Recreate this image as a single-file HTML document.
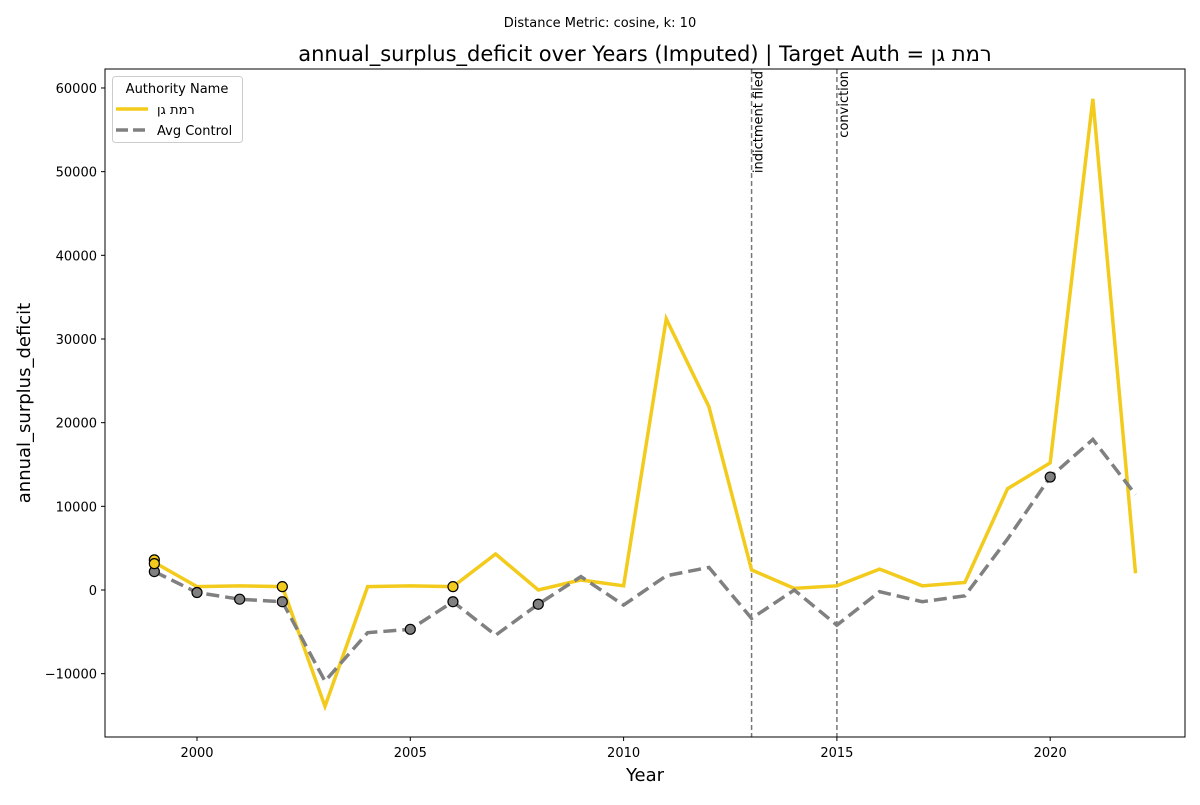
<!DOCTYPE html>
<html><head><meta charset="utf-8"><style>body{margin:0;background:#fff}svg text{font-family:"DejaVu Sans","Liberation Sans",sans-serif}</style></head>
<body>
<svg id="c" width="1200" height="800" xmlns="http://www.w3.org/2000/svg">
<rect width="1200" height="800" fill="#fff"/>
<text x="600" y="27" font-size="13" text-anchor="middle">Distance Metric: cosine, k: 10</text>
<text x="645" y="61" font-size="21" text-anchor="middle">annual_surplus_deficit over Years (Imputed) | Target Auth = רמת גן</text>
<g id="plot"></g>
<rect x="105" y="69" width="1080" height="668" fill="none" stroke="#000" stroke-width="1"/>
<text x="645" y="781" font-size="18" text-anchor="middle">Year</text>
<text transform="translate(30,403) rotate(-90)" font-size="18" text-anchor="middle">annual_surplus_deficit</text>
<g>
<rect x="112.5" y="76.5" width="130" height="66" rx="3" fill="#fff" fill-opacity="0.8" stroke="#ccc"/>
<text x="177" y="93" font-size="13" text-anchor="middle">Authority Name</text>
<line x1="116" y1="109" x2="148" y2="109" stroke="#f2cb1c" stroke-width="3.5"/>
<text x="157" y="114" font-size="13">רמת גן</text>
<line x1="116" y1="130" x2="148" y2="130" stroke="#808080" stroke-width="3.5" stroke-dasharray="12,5"/>
<text x="157" y="135" font-size="13">Avg Control</text>
</g>
</svg>
<script>
const years=[1999,2000,2001,2002,2003,2004,2005,2006,2007,2008,2009,2010,2011,2012,2013,2014,2015,2016,2017,2018,2019,2020,2021,2022];
const targetVals=[3300,400,500,400,-13900,400,500,400,4300,0,1200,500,32400,21900,2400,200,500,2500,500,900,12100,15200,58700,2000];
const controlVals=[2200,-300,-1100,-1400,-10900,-5100,-4700,-1400,-5400,-1700,1600,-1800,1700,2700,-3400,0,-4200,-200,-1400,-700,6100,13500,18000,11400];
const targetMarkers=[[1999,3600],[1999,3150],[2002,400],[2006,400]];
const controlMarkerYears=[1999,2000,2001,2002,2005,2006,2008,2020];
const xTicks=[2000,2005,2010,2015,2020];
const yTicks=[-10000,0,10000,20000,30000,40000,50000,60000];
const events=[[2013,"indictment filed"],[2015,"conviction"]];
const X=v=>197+(v-2000)*42.66;
const Y=v=>590-v*0.008367;
const NS="http://www.w3.org/2000/svg";
const g=document.getElementById('plot');
function mk(t,a){const e=document.createElementNS(NS,t);for(const k in a)e.setAttribute(k,a[k]);g.appendChild(e);return e;}
xTicks.forEach(t=>{
 const l=mk('line',{x1:X(t),x2:X(t),y1:737,y2:741,stroke:'#000'});
 
 
 const tx=mk('text',{x:X(t),y:757,'font-size':13,'text-anchor':'middle'});tx.textContent=t;
 
 
});
yTicks.forEach(t=>{
 const l=mk('line',{x1:101,x2:105,y1:Y(t),y2:Y(t),stroke:'#000'});
 
 
 const tx=mk('text',{x:97,y:Y(t)+5,'font-size':13,'text-anchor':'end'});tx.textContent=t<0?'\u2212'+Math.abs(t):t;
 
 
});
events.forEach(([yr,lab])=>{
 const l=mk('line',{x1:X(yr),x2:X(yr),y1:69,y2:737,stroke:'#777','stroke-width':1.5,'stroke-dasharray':'5,3'});
 
 
 const tx=mk('text',{transform:`translate(${X(yr)+11},71) rotate(-90)`,'font-size':13,'text-anchor':'end'});tx.textContent=lab;
 
 
});
const tp=mk('polyline',{points:years.map((y,i)=>X(y)+','+Y(targetVals[i])).join(' '),fill:'none',stroke:'#f2cb1c','stroke-width':3.5,'stroke-linejoin':'miter'});


const cp=mk('polyline',{points:years.map((y,i)=>X(y)+','+Y(controlVals[i])).join(' '),fill:'none',stroke:'#808080','stroke-width':3.5,'stroke-dasharray':'13,6'});


controlMarkerYears.forEach(yr=>{
 const v=controlVals[years.indexOf(yr)];
 const c=mk('circle',{cx:X(yr),cy:Y(v),r:5,fill:'#808080',stroke:'#000','stroke-width':1.2});
 
 
});
targetMarkers.forEach(([yr,v])=>{
 const c=mk('circle',{cx:X(yr),cy:Y(v),r:5,fill:'#f2cb1c',stroke:'#000','stroke-width':1.2});
 
 
});
</script>
</body></html>
